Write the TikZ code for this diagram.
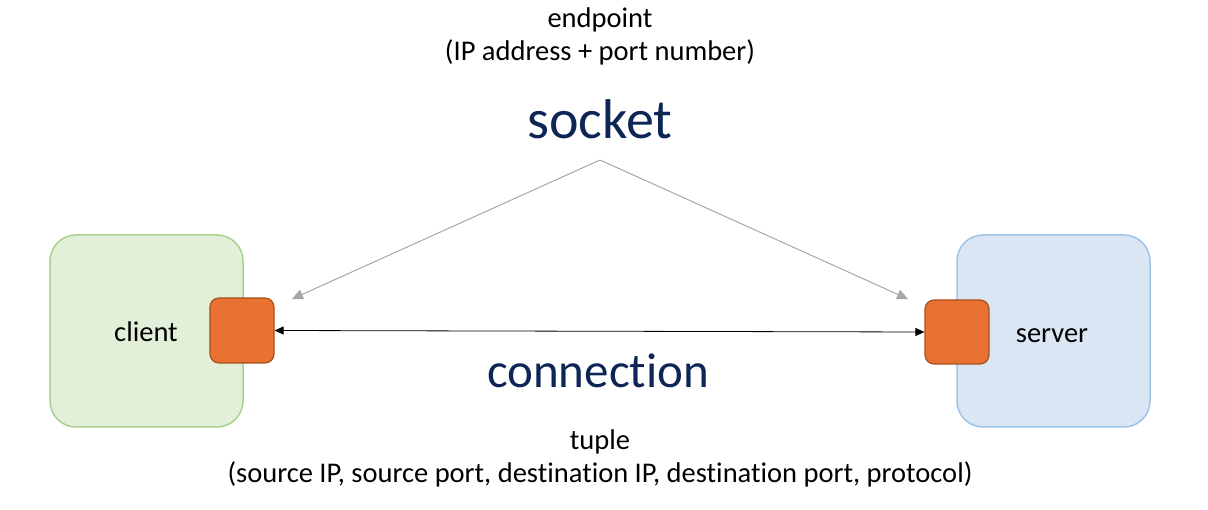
\documentclass[tikz,border=0pt]{standalone}
\usepackage{fontspec}
\setmainfont{Carlito}[Ligatures={NoCommon}]
\usetikzlibrary{arrows.meta}
\definecolor{clientfill}{HTML}{E2EFD9}
\definecolor{clientdraw}{HTML}{A9D18E}
\definecolor{serverfill}{HTML}{DAE6F4}
\definecolor{serverdraw}{HTML}{9DC3E6}
\definecolor{portfill}{HTML}{E97132}
\definecolor{portdraw}{HTML}{A5521F}
\definecolor{navy}{HTML}{0E2656}
\definecolor{linegray}{HTML}{A6A6A6}
\tikzset{
  hostbox/.style={rounded corners=26pt, line width=1.5pt},
  portbox/.style={rounded corners=9pt, line width=1.2pt, fill=portfill, draw=portdraw},
  small/.style={font=\fontsize{28.5}{34}\selectfont, text=black, inner sep=0pt},
  bigsock/.style={font=\fontsize{56}{66}\selectfont, text=navy, inner sep=0pt},
  bigconn/.style={font=\fontsize{49}{58}\selectfont, text=navy, inner sep=0pt},
  sockarrow/.style={draw=linegray, line width=1pt, -{Triangle[length=11pt,width=10pt]}, color=linegray},
  connarrow/.style={draw=black, line width=0.8pt, {Triangle[length=9pt,width=8pt]}-{Triangle[length=9pt,width=8pt]}}
}
\begin{document}
\begin{tikzpicture}[x=1pt,y=-1pt]
\useasboundingbox (0,0) rectangle (1208,510);
% host boxes
\draw[hostbox, fill=clientfill, draw=clientdraw] (50,235) rectangle (243,427);
\draw[hostbox, fill=serverfill, draw=serverdraw] (957,235) rectangle (1150,427);
% ports
\node[portbox, minimum width=64pt, minimum height=65pt, inner sep=0pt] (cport) at (242,330.5) {};
\node[portbox, minimum width=64pt, minimum height=64pt, inner sep=0pt] (sport) at (957,332) {};
% labels
\node[small, anchor=base] (client) at (146,341.5) {client};
\node[small, anchor=base] (server) at (1052,342.5) {server};
\node[small, anchor=base] (endpoint) at (600,27.5) {endpoint};
\node[small, anchor=base] (endpointd) at (600,60.5) {(IP address + port number)};
\node[bigsock, anchor=base] (socket) at (600,138.5) {socket};
\node[bigconn, anchor=base] (connection) at (598,387.5) {connection};
\node[small, anchor=base] (tuple) at (600,449.5) {tuple};
\node[small, anchor=base] (tupled) at (600,482.5) {(source IP, source port, destination IP, destination port, protocol)};
% socket arrows
\coordinate (apex) at (600,160);
\coordinate (ltip) at (292,299);
\coordinate (rtip) at (908,299);
\draw[sockarrow] (apex) -- (ltip);
\draw[sockarrow] (apex) -- (rtip);
% connection
\draw[connarrow] (cport.east) -- (sport.west);
\end{tikzpicture}
\end{document}
